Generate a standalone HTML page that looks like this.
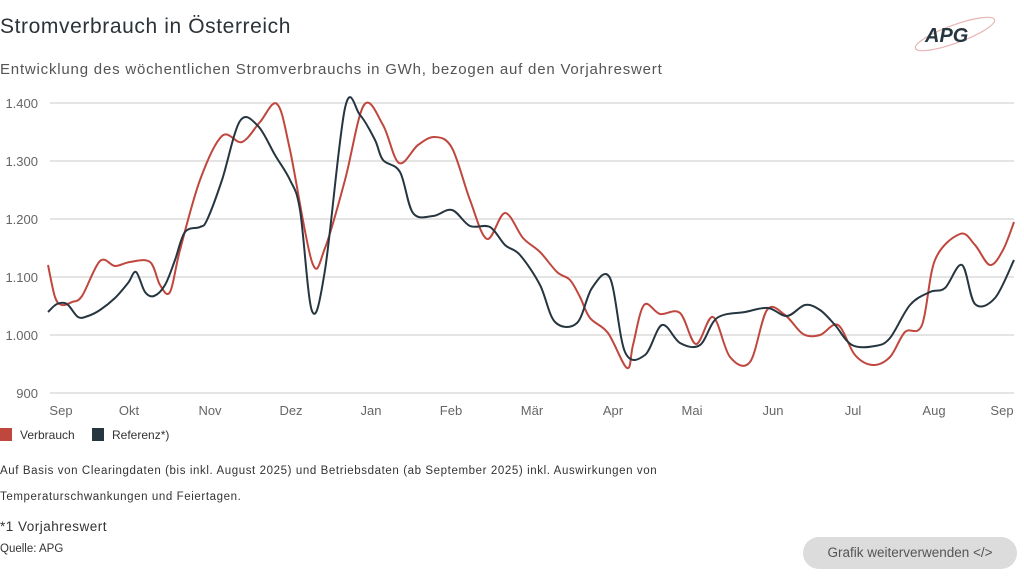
<!DOCTYPE html>
<html><head><meta charset="utf-8"><style>
body{margin:0;width:1024px;height:576px;background:#fff;font-family:"Liberation Sans",sans-serif;overflow:hidden;position:relative;color:#333}
.t{position:absolute;white-space:nowrap}
</style></head><body>
<div class="t" style="left:0;top:15px;font-size:21px;letter-spacing:0.6px;color:#2c3338">Stromverbrauch in Österreich</div>
<div class="t" style="left:0;top:61px;font-size:15px;letter-spacing:0.8px;color:#555">Entwicklung des wöchentlichen Stromverbrauchs in GWh, bezogen auf den Vorjahreswert</div>
<svg width="1024" height="576" style="position:absolute;left:0;top:0">
<g stroke="#dcdcdc" stroke-width="1.5">
<line x1="50" x2="1014" y1="103" y2="103"/><line x1="50" x2="1014" y1="161" y2="161"/><line x1="50" x2="1014" y1="219" y2="219"/><line x1="50" x2="1014" y1="277" y2="277"/><line x1="50" x2="1014" y1="335" y2="335"/><line x1="50" x2="1014" y1="393" y2="393"/>
</g>
<g font-size="13" fill="#666" text-anchor="end" font-family="Liberation Sans">
<text x="38" y="108">1.400</text><text x="38" y="166">1.300</text><text x="38" y="224">1.200</text><text x="38" y="282">1.100</text><text x="38" y="340">1.000</text><text x="38" y="398">900</text>
</g>
<g font-size="13" fill="#666" text-anchor="middle" font-family="Liberation Sans">
<text x="61" y="415">Sep</text><text x="129" y="415">Okt</text><text x="210" y="415">Nov</text><text x="291" y="415">Dez</text><text x="371" y="415">Jan</text><text x="451" y="415">Feb</text><text x="532" y="415">Mär</text><text x="613" y="415">Apr</text><text x="692" y="415">Mai</text><text x="773" y="415">Jun</text><text x="853" y="415">Jul</text><text x="934" y="415">Aug</text><text x="1002" y="415">Sep</text>
</g>
<path id="r" fill="none" stroke="#c0473e" stroke-width="2"/>
<path id="d" fill="none" stroke="#263640" stroke-width="2"/>
<rect x="0" y="428" width="12" height="13" fill="#c0473e"/>
<rect x="92" y="428" width="12" height="13" fill="#263640"/>
<text x="20" y="439" font-size="12" fill="#333">Verbrauch</text>
<text x="112" y="439" font-size="12" fill="#333">Referenz*)</text>
<g transform="translate(915,12)">
<ellipse cx="40" cy="22" rx="42" ry="9" transform="rotate(-20 40 22)" fill="none" stroke="#e8b4b4" stroke-width="1.2"/>
<text x="10" y="30" font-size="20" font-weight="bold" font-style="italic" fill="#263640">APG</text>
</g>
</svg>
<div class="t" style="left:0;top:465px;font-size:11.5px;letter-spacing:0.6px;color:#333">Auf Basis von Clearingdaten (bis inkl. August 2025) und Betriebsdaten (ab September 2025) inkl. Auswirkungen von</div>
<div class="t" style="left:0;top:491px;font-size:11.5px;letter-spacing:0.6px;color:#333">Temperaturschwankungen und Feiertagen.</div>
<div class="t" style="left:0;top:519px;font-size:13.5px;letter-spacing:0.5px;color:#333">*1 Vorjahreswert</div>
<div class="t" style="left:0;top:543px;font-size:11.5px;color:#333">Quelle: APG</div>
<div class="t" style="left:803px;top:537px;width:214px;height:32px;border-radius:16px;background:#dcdcdc;font-size:13.5px;color:#555;line-height:32px;text-align:center">Grafik weiterverwenden &lt;/&gt;</div>
<script>
function cr(p){let s="M"+p[0][0]+","+p[0][1];for(let i=0;i<p.length-1;i++){const a=p[i-1]||p[i],b=p[i],c=p[i+1],d=p[i+2]||c;s+=" C"+(b[0]+(c[0]-a[0])/6).toFixed(1)+","+(b[1]+(c[1]-a[1])/6).toFixed(1)+" "+(c[0]-(d[0]-b[0])/6).toFixed(1)+","+(c[1]-(d[1]-b[1])/6).toFixed(1)+" "+c[0]+","+c[1];}return s;}
const R=[[48,265],[55,297],[62,305],[72,302],[82,296],[100,261],[115,266],[130,262],[150,262],[160,285],[170,292],[180,250],[200,180],[222,136],[242,142],[260,122],[277,104],[290,150],[312,262],[325,248],[345,180],[364,105],[383,125],[399,163],[418,145],[435,137],[452,148],[470,200],[487,239],[505,213],[523,238],[540,252],[557,272],[570,280],[580,297],[590,318],[608,333],[627,368],[633,345],[644,305],[660,314],[680,313],[696,344],[713,317],[730,357],[750,362],[767,310],[785,315],[803,334],[820,335],[838,325],[855,355],[873,365],[890,357],[905,332],[922,325],[935,260],[960,234],[975,245],[990,265],[1003,250],[1014,222]];
const D=[[48,312],[57,304],[67,304],[78,317],[88,316],[100,310],[115,298],[128,283],[136,272],[145,292],[154,296],[165,285],[175,260],[185,232],[200,227],[207,220],[222,180],[240,121],[258,126],[275,155],[290,180],[300,210],[312,311],[325,270],[345,108],[360,115],[375,140],[383,160],[400,172],[413,213],[433,216],[452,210],[470,226],[490,227],[505,245],[520,255],[540,285],[555,322],[577,323],[592,288],[610,278],[625,352],[645,355],[662,325],[680,343],[700,345],[717,318],[745,312],[768,308],[787,316],[805,305],[820,310],[835,325],[852,345],[875,346],[890,338],[910,305],[930,292],[945,288],[962,265],[975,304],[995,298],[1014,260]];
document.getElementById("r").setAttribute("d",cr(R));
document.getElementById("d").setAttribute("d",cr(D));
</script>
</body></html>
